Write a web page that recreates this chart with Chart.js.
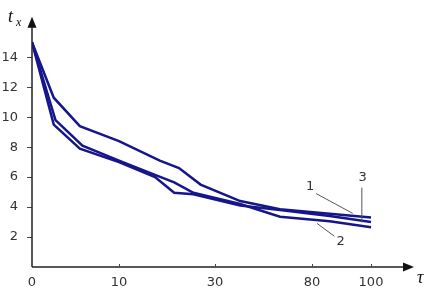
<!DOCTYPE html>
<html>
<head>
<meta charset="utf-8">
<script src="https://cdn.jsdelivr.net/npm/chart.js@4.4.1/dist/chart.umd.min.js"></script>
<style>
  html, body { margin: 0; padding: 0; background: #fff; }
  #wrap { width: 427px; height: 293px; }
</style>
</head>
<body>
<div id="wrap"><canvas id="chart"></canvas></div>
<script>
// valores (tau -> t_x)
const tauTicks = [0, 10, 30, 80, 100];
const yTicks = [2, 4, 6, 8, 10, 12, 14];

const tau1 = [0, 2.5, 5.5, 10, 18.5, 22.5, 27, 43, 63.5, 86, 100];
const val1 = [15, 11.3, 9.4, 8.4, 7.1, 6.6, 5.5, 4.4, 3.85, 3.55, 3.3];

const tau2 = [0, 2.7, 5.8, 10, 17.5, 21.5, 25.5, 43, 63.5, 86, 100];
const val2 = [15, 9.8, 8.1, 7.1, 6.15, 5.65, 4.95, 4.2, 3.35, 3.05, 2.65];

const tau3 = [0, 2.5, 5.5, 10, 17.5, 21.5, 25.5, 43, 63.5, 86, 100];
const val3 = [15, 9.5, 7.9, 7.0, 6.0, 4.95, 4.85, 4.1, 3.8, 3.4, 3.0];

// rótulos das curvas (em unidades de dados)
const curveLabels = [
  { text: '1', tau: 79, val: 5.36, from: [81.4, 4.9], to: [93.8, 3.58] },
  { text: '3', tau: 97.2, val: 5.96, from: [96.9, 5.3], to: [96.9, 2.98] },
  { text: '2', tau: 89.7, val: 1.72, from: [81.7, 2.91], to: [87.6, 2.05] }
];

// escala do eixo x não é linear: posição de cada marca (px a partir da origem)
const tickSpots = [0, 87, 183, 280, 339];
const xEnd = 382;

function warp(t) {
  let i = 0;
  while (i < tauTicks.length - 2 && t > tauTicks[i + 1]) i++;
  const f = (t - tauTicks[i]) / (tauTicks[i + 1] - tauTicks[i]);
  return tickSpots[i] + f * (tickSpots[i + 1] - tickSpots[i]);
}

function points(taus, vals) {
  return taus.map((t, i) => ({ x: warp(t), y: vals[i] }));
}

const lineColor = '#16168c';
const textColor = '#333';
const font = { family: 'DejaVu Sans', size: 13 };

const axesPlugin = {
  id: 'axes',
  afterDraw(chart) {
    const ctx = chart.ctx;
    const a = chart.chartArea;
    const xs = chart.scales.x;
    const ys = chart.scales.y;
    ctx.save();
    ctx.strokeStyle = '#222';
    ctx.fillStyle = '#111';
    ctx.lineWidth = 1.5;
    // eixos
    ctx.beginPath();
    ctx.moveTo(a.left, a.bottom);
    ctx.lineTo(a.left, a.top + 6);
    ctx.moveTo(a.left, a.bottom);
    ctx.lineTo(a.right - 6, a.bottom);
    ctx.stroke();
    // setas
    ctx.beginPath();
    ctx.moveTo(a.left, a.top);
    ctx.lineTo(a.left - 4.5, a.top + 11);
    ctx.lineTo(a.left + 4.5, a.top + 11);
    ctx.closePath();
    ctx.fill();
    ctx.beginPath();
    ctx.moveTo(a.right, a.bottom);
    ctx.lineTo(a.right - 11, a.bottom - 4.5);
    ctx.lineTo(a.right - 11, a.bottom + 4.5);
    ctx.closePath();
    ctx.fill();
    // marcas do eixo x
    ctx.lineWidth = 1;
    ctx.strokeStyle = '#444';
    tauTicks.forEach(t => {
      if (t === 0) return;
      const px = Math.round(xs.getPixelForValue(warp(t))) + 0.5;
      ctx.beginPath();
      ctx.moveTo(px, a.bottom);
      ctx.lineTo(px, a.bottom - 3);
      ctx.stroke();
    });
    // títulos dos eixos
    ctx.fillStyle = '#111';
    ctx.textAlign = 'left';
    ctx.textBaseline = 'alphabetic';
    ctx.font = 'italic 18px "Liberation Serif"';
    ctx.fillText('t', 8, 22);
    ctx.font = 'italic 12px "Liberation Serif"';
    ctx.fillText('x', 16, 26);
    ctx.font = 'italic 18px "Liberation Serif"';
    ctx.fillText('τ', 417, 283);
    // rótulos das curvas
    ctx.strokeStyle = '#555';
    ctx.lineWidth = 1;
    ctx.fillStyle = textColor;
    ctx.font = '13px "DejaVu Sans"';
    ctx.textAlign = 'center';
    ctx.textBaseline = 'middle';
    curveLabels.forEach(l => {
      ctx.beginPath();
      ctx.moveTo(xs.getPixelForValue(warp(l.from[0])), ys.getPixelForValue(l.from[1]));
      ctx.lineTo(xs.getPixelForValue(warp(l.to[0])), ys.getPixelForValue(l.to[1]));
      ctx.stroke();
      ctx.fillText(l.text, xs.getPixelForValue(warp(l.tau)), ys.getPixelForValue(l.val));
    });
    ctx.restore();
  }
};

function series(taus, vals) {
  return {
    data: points(taus, vals),
    borderColor: lineColor,
    borderWidth: 2.5,
    pointRadius: 0,
    tension: 0,
    fill: false
  };
}

new Chart(document.getElementById('chart'), {
  type: 'line',
  data: {
    datasets: [series(tau1, val1), series(tau2, val2), series(tau3, val3)]
  },
  options: {
    responsive: true,
    maintainAspectRatio: false,
    animation: false,
    layout: { padding: { top: 15, right: 13, left: 0, bottom: 0 } },
    plugins: { legend: { display: false }, tooltip: { enabled: false } },
    scales: {
      x: {
        type: 'linear',
        min: 0,
        max: xEnd,
        afterBuildTicks: s => { s.ticks = tauTicks.map(t => ({ value: warp(t) })); },
        afterFit: s => { s.height = 26; },
        ticks: {
          color: textColor,
          font: font,
          padding: 8,
          maxRotation: 0,
          autoSkip: false,
          callback: (v, i) => String(tauTicks[i])
        },
        grid: { display: false, drawTicks: false },
        border: { display: false }
      },
      y: {
        min: 0,
        max: 16.7,
        afterBuildTicks: s => { s.ticks = yTicks.map(v => ({ value: v })); },
        afterFit: s => { s.width = 32; },
        ticks: { color: textColor, font: font, padding: 9 },
        grid: { drawOnChartArea: false, drawTicks: true, tickLength: 5, color: '#444' },
        border: { display: false }
      }
    }
  },
  plugins: [axesPlugin]
});
</script>
</body>
</html>
